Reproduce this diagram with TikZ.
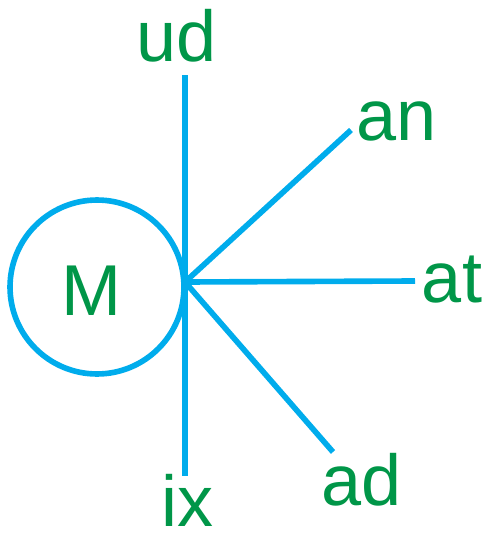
\documentclass[tikz,border=0pt]{standalone}
\usepackage{fontspec}
\setmainfont{Liberation Sans}
\usetikzlibrary{positioning}
\definecolor{lineblue}{RGB}{0,172,236}
\definecolor{labelgreen}{RGB}{0,150,72}

\begin{document}
\begin{tikzpicture}[x=0.02cm, y=-0.02cm,
    ray/.style={draw=lineblue, line width=3.2pt},
    lab/.style={text=labelgreen, font=\fontsize{41}{48}\selectfont, inner sep=0pt, anchor=base, text depth=0pt}]
    \useasboundingbox (0,0) rectangle (484,537);

    % Circle
    \node[ray, circle, minimum size=3.48cm, inner sep=0pt] (M) at (97,287) {};
    \node[lab] (Mlab) at (92,315) {M};

    % Junction and ray ends
    \coordinate (c) at (185,282);
    \coordinate (udend) at (185,75);
    \coordinate (anend) at (351,130);
    \coordinate (atend) at (415,281);
    \coordinate (adend) at (333,452);
    \coordinate (ixend) at (185,476);

    % Rays
    \draw[ray] (c) -- (udend);
    \draw[ray] (c) -- (anend);
    \draw[ray] (c) -- (atend);
    \draw[ray] (c) -- (adend);
    \draw[ray] (c) -- (ixend);

    % Labels
    \node[lab] (ud) at (177,62) {ud};
    \node[lab] (an) at (397,140) {an};
    \node[lab] (at) at (452,302) {at};
    \node[lab] (ad) at (362,505) {ad};
    \node[lab] (ix) at (188,526) {ix};
\end{tikzpicture}
\end{document}
